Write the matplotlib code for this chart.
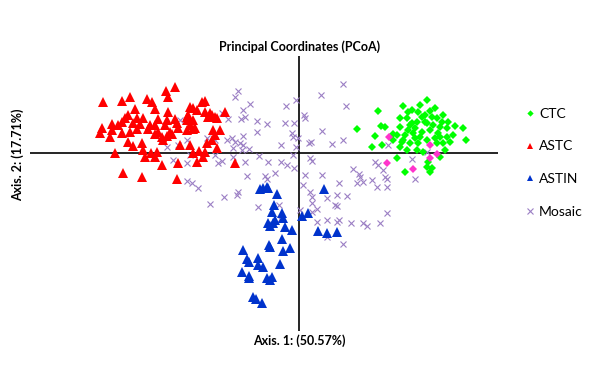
import matplotlib
matplotlib.use("Agg")
import matplotlib.pyplot as plt
from matplotlib.lines import Line2D

# PCoA scores (x100)
astc_x = [-124, -133, -169, -196, -177, -152, -147, -131, -94, -97, -164, -144, -131, -106, -109, -102,
          -171, -174, -162, -156, -141, -132, -124, -111, -112, -87, -82, -177, -181, -187, -166, -159,
          -149, -144, -134, -122, -109, -104, -197, -187, -199, -189, -177, -169, -162, -151, -141, -129,
          -121, -112, -144, -137, -132, -127, -171, -166, -157, -156, -148, -142, -144, -154, -184, -136,
          -119, -109, -92, -87, -84, -94, -106, -96, -102, -121, -137, -176, -157, -122, -94, -91, -74,
          -89, -84, -79, -86, -64, -100, -82, -106, -106, -112]
astc_y = [66, 62, 56, 51, 52, 54, 51, 56, 52, 51, 44, 44, 41, 45, 46, 43,
          38, 35, 35, 35, 34, 33, 34, 38, 33, 38, 35, 31, 28, 29, 30, 29,
          28, 28, 28, 30, 28, 25, 25, 23, 20, 16, 20, 21, 24, 24, 21, 21,
          25, 23, 19, 16, 17, 19, 11, 7, 10, 3, 0, 1, -4, -4, 0, 13,
          8, 8, 10, 13, 18, 1, 0, -4, -9, -10, -12, -20, -24, -26, 41, 36, 41,
          40, 36, 23, 23, -10, 2, 5, 33, 24, 36]

astin_x = [-39, -36, -32, -31, -22, -25, -27, -17, -16, -24, -31, -26, -29, -14, -7, 3, 9, 25, 19, 28, 38,
           -17, -30, -29, -16, -9, -56, -52, -50, -41, -41, -36, -19, -57, -50, -50, -32, -27, -29,
           -46, -43, -37]
astin_y = [-36, -35, -34, -35, -41, -52, -59, -60, -65, -67, -70, -70, -73, -74, -77, -63, -60, -36, -78, -80, -79,
           -86, -92, -94, -98, -95, -97, -106, -109, -105, -112, -114, -111, -119, -123, -125, -125, -124, -127,
           -144, -146, -150]

ctc_x = [58, 79, 104, 128, 82, 86, 76, 94, 101, 113, 119, 131, 138, 144, 149, 156, 164, 167, 73, 83,
         98, 106, 128, 131, 141, 108, 101, 111, 118, 126, 134, 141, 148, 106, 114, 123, 131, 139, 148,
         103, 111, 119, 138, 144, 151, 108, 118, 124, 146, 101, 94, 109, 123, 128, 133, 116, 109, 136,
         128, 116, 154, 143, 104, 98, 129, 133, 121, 136, 126, 113, 141, 121]
ctc_y = [24, 42, 47, 53, 27, 26, 17, 19, 35, 43, 41, 42, 35, 38, 31, 27, 25, 13, 6, 8,
         -5, -19, -14, -19, -4, 35, 26, 28, 31, 31, 28, 26, 25, 18, 20, 21, 23, 20, 16,
         11, 10, 10, 10, 10, 11, 3, 3, 1, 3, 6, 13, 41, 36, 30, 36, 25, 23, 15,
         13, 15, 18, 31, 13, 18, -9, -15, 48, 45, 38, 30, 16, 16]

# highlighted CTC samples (magenta, not in legend)
other_x = [90, 131, 138, 131, 88, 114]
other_y = [16, 8, -1, -5, -10, -16]

mosaic_x = [-61, -64, -49, -56, -13, -3, 22, 44, 47, -77, -71, -58, -54, -42, -32, -14, -5, 5, 6, -119,
            -42, -56, -72, -67, -7, -6, -1, 23, 44, -92, -84, -112, -64, -59, -56, -66, -50, -57,
            -18, -3, 10, 12, 33, -121, -132, 89, -6, -40, -31, -18, -12, 11, 13, -77, -66, -126,
            -109, -112, -84, -81, -54, -5, 54, 76, 79, 113, 128, -52, -34, -24, 4, 23, 40, 60,
            -112, -107, -101, -32, 6, 58, 64, 73, 78, 88, 86, 84, 61, 88, 116, -61, -62, -75,
            -89, -41, 1, 11, 13, 13, 18, 13, 28, 38, 36, 48, 38, 88, 18, 28, 38, 40, 52, 64, 68,
            81, 44, 28, -20, -19]
mosaic_y = [62, 56, 49, 43, 47, 53, 58, 69, 47, 40, 34, 34, 36, 32, 29, 30, 30, 38, 35, 33,
            21, 17, 13, 15, 20, 16, 15, 22, 13, 15, 13, 13, 11, 10, 8, 5, 4, 3,
            8, 6, 10, 11, 9, 8, 6, 8, -2, -3, -9, -9, -12, -5, -8, -8, -4, -7,
            -2, -10, -2, -10, -9, -15, -16, -9, -12, -6, 1, -23, -23, -20, -32, -22, -30, -21,
            -28, -30, -35, -26, -22, -30, -29, -27, -34, -34, -24, -17, -24, -26, -26, -39, -42, -44,
            -51, -54, -57, -39, -44, -50, -56, -59, -45, -42, -52, -43, -53, -60, -69, -67, -69, -67, -70, -70, -73,
            -70, -91, -84, -52, -66]

fig = plt.figure(figsize=(6, 3.66), dpi=100)
# axes box: x pixels 30..498, y pixels 56..331 of the reference
ax = fig.add_axes([30 / 600, 35 / 366, 468 / 600, 275 / 366])
ax.set_xlim(-269, 199)
ax.set_ylim(-178, 97)
ax.axis('off')

ax.axhline(0, color='black', lw=1.2, zorder=1)
ax.axvline(0, color='black', lw=1.2, zorder=1)

purple = '#9b7fc4'
ax.plot(mosaic_x, mosaic_y, 'x', ms=5, mew=0.8, color=purple, zorder=2)
ax.plot(astc_x, astc_y, '^', ms=6.5, mew=0, color='#ff0000', zorder=3)
ax.plot(astin_x, astin_y, '^', ms=6.5, mew=0, color='#0033cc', zorder=3)
ax.plot(ctc_x, ctc_y, 'D', ms=4.2, mew=0, color='#00ff00', zorder=3)
ax.plot(other_x, other_y, 'D', ms=4.2, mew=0, color='#ff33cc', zorder=4)

handles = [
    Line2D([], [], ls='none', marker='D', ms=3.2, mew=0, color='#00ff00'),
    Line2D([], [], ls='none', marker='^', ms=5, mew=0, color='#ff0000'),
    Line2D([], [], ls='none', marker='^', ms=5, mew=0, color='#0033cc'),
    Line2D([], [], ls='none', marker='x', ms=4.5, mew=0.8, color=purple),
]
labels = ['CTC', 'ASTC', 'ASTIN', 'Mosaic']
fig.legend(handles, labels, loc='upper left', bbox_to_anchor=(519 / 600, 1 - 101 / 366),
           frameon=False, prop={'family': 'Lato', 'size': 10}, labelspacing=1.48,
           handlelength=0.6, handletextpad=0.35, borderpad=0)

fig.text(300 / 600, 1 - 47 / 366, 'Principal Coordinates (PCoA)', ha='center', va='center',
         family='Lato', weight='bold', size=9)
fig.text(299 / 600, 1 - 341 / 366, 'Axis. 1: (50.57%)', ha='center', va='center',
         family='Lato', weight='bold', size=9)
fig.text(18 / 600, 1 - 155 / 366, 'Axis. 2: (17.71%)', ha='center', va='center', rotation=90,
         family='Lato', weight='bold', size=9)

fig.savefig('out.png', dpi=100)
